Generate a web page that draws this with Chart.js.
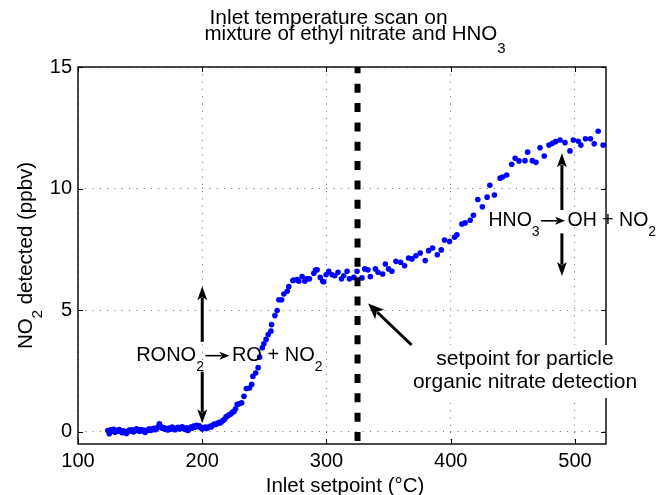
<!DOCTYPE html>
<html><head><meta charset="utf-8">
<script src="https://cdn.jsdelivr.net/npm/chart.js@4/dist/chart.umd.min.js"></script>
<style>html,body{margin:0;padding:0;background:#fff;}#wrap{width:657px;height:495px;}</style>
</head><body><div id="wrap"><canvas id="c" width="657" height="495"></canvas></div>
<script>
// ---- data ----
const inletT = [124.0,125.2,126.3,127.5,128.6,129.8,131.0,132.1,133.3,134.4,
135.6,136.7,137.9,139.0,140.2,141.3,142.5,143.6,144.8,145.9,
147.1,148.2,149.4,150.5,151.7,152.8,154.0,155.1,156.3,157.4,
158.6,159.7,160.9,162.0,163.2,164.3,165.5,166.6,167.8,168.9,
170.1,171.2,172.4,173.5,174.7,175.8,177.0,178.1,179.3,180.4,
181.6,182.7,183.9,185.0,186.2,187.3,188.5,189.6,190.8,191.9,
193.1,194.2,195.4,196.5,197.7,198.8,200.0,201.2,202.4,203.6,
204.8,206.0,207.2,208.4,209.6,210.8,212.0,213.2,214.4,215.6,
216.8,218.0,219.2,220.4,221.6,222.9,224.2,225.5,226.8,228.2,
229.8,231.7,233.6,235.5,238.1,239.8,240.8,243.0,245.0,246.2,
248.3,249.6,251.4,253.1,255.3,255.8,258.5,260.3,261.7,263.9,
265.7,268.4,269.7,272.9,273.8,276.4,277.7,280.4,282.6,284.5,
286.3,289.8,291.2,292.5,295.0,297.0,297.8,299.7,301.8,304.5,
306.7,309.3,312.1,313.9,316.6,318.5,322.0,324.6,328.6,330.8,
333.4,335.3,339.4,341.5,345.2,347.4,350.0,352.7,355.9,359.7,
362.9,366.1,368.8,372.0,375.5,379.5,382.2,385.4,389.2,392.4,
395.0,399.0,403.0,405.0,409.0,411.6,415.7,418.3,421.8,425.5,
429.3,431.5,435.2,439.8,441.8,445.1,449.1,451.9,455.0,459.8,
461.9,465.7,468.6,471.9,475.3,479.1,481.8,484.4,488.0,492.0,
496.0,498.7,502.7,504.8,508.5,512.5,515.5,518.7,522.7];
const no2ppbv = [0.05,-0.08,0.08,0.02,0.10,-0.02,0.06,0.03,0.09,0.01,
-0.04,0.04,0.00,-0.07,0.02,0.07,0.03,0.08,0.00,0.05,
0.12,0.06,0.02,0.09,0.04,0.07,-0.02,0.03,0.08,0.12,
0.06,0.10,0.15,0.09,0.13,0.20,0.33,0.22,0.15,0.18,
0.10,0.14,0.08,0.16,0.11,0.20,0.13,0.09,0.15,0.19,
0.12,0.18,0.21,0.14,0.10,0.17,0.06,0.12,0.20,0.15,
0.24,0.19,0.27,0.22,0.25,0.18,0.12,0.16,0.20,0.14,
0.18,0.23,0.20,0.27,0.32,0.30,0.34,0.38,0.36,0.42,
0.47,0.52,0.62,0.65,0.70,0.73,0.80,0.84,0.95,1.13,
1.15,1.19,1.46,1.78,1.80,1.95,2.28,2.42,2.64,3.07,
3.46,3.62,3.80,4.00,4.14,4.41,4.78,4.99,5.43,5.43,
5.67,5.78,5.97,6.22,6.24,6.26,6.19,6.38,6.19,6.30,
6.29,6.52,6.65,6.66,6.35,6.19,6.17,6.46,6.60,6.46,
6.42,6.56,6.29,6.42,6.60,6.29,6.35,6.60,6.33,6.70,
6.66,6.38,6.70,6.56,6.49,6.90,6.70,6.60,7.01,6.97,
6.83,7.15,7.11,7.24,7.35,7.04,7.45,7.56,7.28,7.48,
7.89,7.83,8.00,8.10,8.54,8.59,8.70,8.90,9.55,9.25,
9.65,10.14,9.74,10.43,10.48,10.56,11.00,11.25,11.14,11.15,
11.50,11.15,11.08,11.68,11.34,11.79,11.86,11.93,12.00,11.89,
11.55,12.00,11.95,11.79,12.05,12.05,11.84,12.36,11.79];
const xTicks = [100, 200, 300, 400, 500];
const yTicks = [0, 5, 10, 15];
const xRange = [100, 525];
const yRange = [-0.5, 15];
const setpointT = 325;

const FONT = '"Liberation Sans", Arial, Helvetica, sans-serif';

function drawArrow(ctx, x1, y1, x2, y2, lw, hl, hw) {
  const a = Math.atan2(y2 - y1, x2 - x1);
  const c = Math.cos(a), s = Math.sin(a);
  const bx = x2 - c * hl * 0.8, by = y2 - s * hl * 0.8;
  ctx.save();
  ctx.strokeStyle = '#000'; ctx.fillStyle = '#000'; ctx.lineWidth = lw; ctx.lineCap = 'butt';
  ctx.beginPath(); ctx.moveTo(x1, y1); ctx.lineTo(bx, by); ctx.stroke();
  const px = -s, py = c;
  ctx.beginPath();
  ctx.moveTo(x2, y2);
  ctx.lineTo(x2 - c * hl + px * hw / 2, y2 - s * hl + py * hw / 2);
  ctx.lineTo(x2 - c * hl * 0.75, y2 - s * hl * 0.75);
  ctx.lineTo(x2 - c * hl - px * hw / 2, y2 - s * hl - py * hw / 2);
  ctx.closePath(); ctx.fill();
  ctx.restore();
}

function richWidth(ctx, parts, size, subSize) {
  let w = 0;
  for (const p of parts) {
    if (p.arrow) { w += p.w; continue; }
    ctx.font = (p.sub ? subSize : size) + 'px ' + FONT;
    w += ctx.measureText(p.t).width;
  }
  return w;
}
function richText(ctx, x, y, parts, size, subSize, subDy) {
  let cx = x;
  ctx.fillStyle = '#000';
  ctx.textAlign = 'left'; ctx.textBaseline = 'alphabetic';
  for (const p of parts) {
    if (p.arrow) {
      drawArrow(ctx, cx + 1.5, y - size * 0.27, cx + p.w - 2.5, y - size * 0.27, 1.6, 10, 8);
      cx += p.w; continue;
    }
    ctx.font = (p.sub ? subSize : size) + 'px ' + FONT;
    ctx.fillText(p.t, cx, y + (p.sub ? subDy : 0));
    cx += ctx.measureText(p.t).width;
  }
}

const decor = {
  id: 'decor',
  afterDatasetsDraw(chart) {
    const ctx = chart.ctx, a = chart.chartArea;
    const X = v => chart.scales.x.getPixelForValue(v);
    const Y = v => chart.scales.y.getPixelForValue(v);
    ctx.save();
    // box
    ctx.strokeStyle = '#000'; ctx.lineWidth = 1.4;
    ctx.strokeRect(a.left, a.top, a.right - a.left, a.bottom - a.top);
    ctx.lineWidth = 1;
    ctx.beginPath();
    xTicks.forEach(v => { const p = Math.round(X(v)) + 0.5;
      ctx.moveTo(p, a.bottom); ctx.lineTo(p, a.bottom - 5);
      ctx.moveTo(p, a.top); ctx.lineTo(p, a.top + 5); });
    yTicks.forEach(v => { const p = Math.round(Y(v)) + 0.5;
      ctx.moveTo(a.left, p); ctx.lineTo(a.left + 5, p);
      ctx.moveTo(a.right, p); ctx.lineTo(a.right - 5, p); });
    ctx.stroke();

    // title
    richText(ctx, 209.5, 24, [{t: 'Inlet temperature scan on'}], 21, 15, 0);
    richText(ctx, 204.5, 39.5, [{t: 'mixture of ethyl nitrate and HNO'}, {t: '3', sub: true}], 20.5, 15, 13.5);

    // axis labels
    ctx.font = '20.5px ' + FONT; ctx.textAlign = 'center'; ctx.fillStyle = '#000';
    ctx.fillText('Inlet setpoint (\u00B0C)', (a.left + a.right) / 2 + 3, 491.5);
    const yl = [{t: 'NO'}, {t: '2', sub: true}, {t: ' detected (ppbv)'}];
    const w = richWidth(ctx, yl, 20.5, 15);
    ctx.save();
    ctx.translate(32, (a.top + a.bottom) / 2);
    ctx.rotate(-Math.PI / 2);
    richText(ctx, -w / 2, 0, yl, 20.5, 15, 10);
    ctx.restore();

    // RONO2 reaction
    richText(ctx, X(146.8), Y(2.91), [{t: 'RONO'}, {t: '2', sub: true}, {arrow: true, w: 28}, {t: 'RO + NO'}, {t: '2', sub: true}], 20, 14, 10);
    drawArrow(ctx, X(200), Y(3.70), X(200), Y(5.99), 3, 14, 10);
    drawArrow(ctx, X(200), Y(2.47), X(200), Y(0.35), 3, 14, 10);

    // HNO3 reaction
    richText(ctx, X(430.4), Y(8.46), [{t: 'HNO'}, {t: '3', sub: true}, {arrow: true, w: 28}, {t: 'OH + NO'}, {t: '2', sub: true}], 19.5, 14, 9.5);
    drawArrow(ctx, X(489.5), Y(9.12), X(489.5), Y(11.45), 3, 14, 10);
    drawArrow(ctx, X(489.5), Y(8.16), X(489.5), Y(6.41), 3, 14, 10);

    // setpoint annotation
    ctx.fillStyle = '#fff';
    ctx.fillRect(X(367), Y(3.57), X(556.5) - X(367), Y(1.39) - Y(3.57));
    ctx.fillStyle = '#000'; ctx.font = '21px ' + FONT; ctx.textAlign = 'center';
    ctx.fillText('setpoint for particle', X(459.8), Y(2.75));
    ctx.fillText('organic nitrate detection', X(459.8), Y(1.79));
    drawArrow(ctx, X(368.5), Y(3.57), X(333.5), Y(5.28), 3, 16, 13);
    ctx.restore();
  }
};

const tickFont = {family: FONT, size: 20};
new Chart(document.getElementById('c'), {
  type: 'scatter',
  data: {
    datasets: [
      {
        type: 'scatter',
        data: inletT.map((t, i) => ({x: t, y: no2ppbv[i]})),
        backgroundColor: '#0000ff', borderColor: '#0000ff', borderWidth: 0,
        pointRadius: 2.8, order: 2
      },
      {
        type: 'line',
        data: [{x: setpointT, y: yRange[1]}, {x: setpointT, y: yRange[0]}],
        borderColor: '#000', borderWidth: 6, borderDash: [9, 10.35], borderDashOffset: 2.65,
        pointRadius: 0, fill: false, order: 1
      }
    ]
  },
  options: {
    responsive: false, animation: false, devicePixelRatio: 1,
    layout: {padding: {left: 0, right: 51, top: 67, bottom: 0}},
    plugins: {legend: {display: false}, tooltip: {enabled: false}, title: {display: false}},
    scales: {
      x: {
        type: 'linear', min: xRange[0], max: xRange[1],
        afterBuildTicks: s => { s.ticks = xTicks.map(v => ({value: v})); },
        afterFit: s => { s.height = 51; },
        grid: {color: '#6a6a6a', lineWidth: 1, drawTicks: false},
        border: {display: false, dash: [1, 6.3]},
        ticks: {font: tickFont, color: '#000', padding: 5, maxRotation: 0, autoSkip: false}
      },
      y: {
        type: 'linear', min: yRange[0], max: yRange[1],
        afterBuildTicks: s => { s.ticks = yTicks.map(v => ({value: v})); },
        afterFit: s => { s.width = 78; },
        grid: {color: '#6a6a6a', lineWidth: 1, drawTicks: false},
        border: {display: false, dash: [1, 6.3]},
        ticks: {font: tickFont, color: '#000', padding: 6}
      }
    }
  },
  plugins: [decor]
});
</script>
</body></html>
